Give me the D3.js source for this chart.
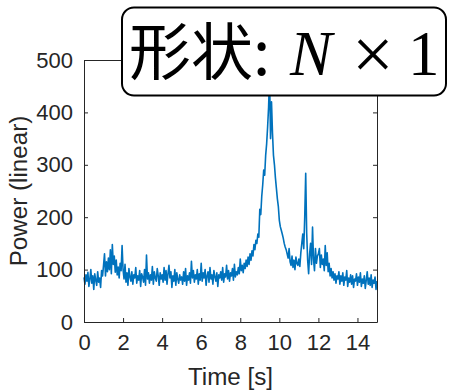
<!DOCTYPE html>
<html><head><meta charset="utf-8">
<script src="https://cdn.jsdelivr.net/npm/d3@7"></script>
<style>html,body{margin:0;padding:0;background:#fff;}svg{display:block;}</style>
</head><body>
<svg id="c" width="450" height="390"></svg>
<script>
// Time step 0.05 s (one row per second)
const tStep = 0.05;
const power = [
  85,72,90,78,95,68,82,100,74,88,62,92,80,70,96,76,84,66,98,88,
  108,130,88,115,96,122,100,138,92,148,110,126,95,118,90,105,84,112,98,146,
  100,82,110,76,94,70,102,86,78,96,72,90,84,104,74,88,80,98,68,92,
  86,76,100,70,128,82,94,74,90,80,106,72,96,84,78,102,88,70,94,82,
  90,76,104,80,98,72,92,108,84,96,66,88,78,100,70,94,82,74,90,80,
  86,72,96,78,102,70,88,80,94,74,116,84,98,76,90,82,100,72,92,80,
  112,78,94,84,100,70,88,96,76,104,82,90,72,98,86,78,94,68,90,84,
  96,80,104,76,92,86,108,82,98,78,94,88,102,80,110,86,96,90,104,92,
  120,98,108,94,112,102,118,106,124,110,130,118,136,126,148,138,156,150,168,162,
  215,205,240,262,290,280,318,340,372,410,470,350,420,360,318,300,275,255,235,220,
  194,182,175,168,160,150,143,138,130,122,140,115,108,126,104,118,100,124,112,108,
  120,106,132,150,168,140,200,284,170,118,92,130,150,110,181,120,98,140,112,126,
  130,140,104,128,110,120,98,146,108,132,96,112,88,102,84,96,80,92,74,88,
  82,96,72,88,78,94,70,86,80,98,68,84,76,90,72,88,66,82,78,92,
  70,86,76,94,68,82,74,88,64,80,96,72,84,70,90,66,80,74,86,62,
  78
];
const xTicks = [0,2,4,6,8,10,12,14];
const yTicks = [0,100,200,300,400,500];
const xLabel = "Time [s]";
const yLabel = "Power (linear)";
const titleCJK = "形状:";
const titleN = "N";
const titleTimes = "×";
const titleOne = "1";

const data = power.map((v,i)=>({t:i*tStep, v}));
const svg = d3.select("#c");
const L=84, R=377, T=60, B=322;
const x = d3.scaleLinear().domain([0,15]).range([L,R]);
const y = d3.scaleLinear().domain([0,500]).range([B,T]);
const axisCol = "#262626";
const tickFont = "Liberation Sans, Arial, sans-serif";

// data line
svg.append("path").datum(data)
  .attr("fill","none").attr("stroke","#0072BD").attr("stroke-width",1.6)
  .attr("stroke-linejoin","round")
  .attr("d", d3.line().x(d=>x(d.t)).y(d=>y(d.v)));

// axes (MATLAB style, ticks inward, box on)
function styleAxis(g){
  g.select(".domain").attr("stroke",axisCol).attr("stroke-width",1);
  g.selectAll(".tick line").attr("stroke",axisCol).attr("stroke-width",1);
  g.selectAll("text").attr("fill",axisCol).attr("font-family",tickFont).attr("font-size",22);
}
const gx = svg.append("g").attr("transform",`translate(0,${B})`)
  .call(d3.axisBottom(x).tickValues(xTicks).tickSizeInner(-4).tickSizeOuter(0).tickPadding(12).tickFormat(d3.format("d")));
styleAxis(gx);
const gxt = svg.append("g").attr("transform",`translate(0,${T})`)
  .call(d3.axisTop(x).tickValues(xTicks).tickSizeInner(-4).tickSizeOuter(0).tickFormat(""));
styleAxis(gxt);
const gy = svg.append("g").attr("transform",`translate(${L},0)`)
  .call(d3.axisLeft(y).tickValues(yTicks).tickSizeInner(-4).tickSizeOuter(0).tickPadding(11).tickFormat(d3.format("d")));
styleAxis(gy);
const gyr = svg.append("g").attr("transform",`translate(${R},0)`)
  .call(d3.axisRight(y).tickValues(yTicks).tickSizeInner(-4).tickSizeOuter(0).tickFormat(""));
styleAxis(gyr);

// axis labels
svg.append("text").attr("x",(L+R)/2).attr("y",385).attr("text-anchor","middle")
  .attr("font-family",tickFont).attr("font-size",24.2).attr("fill",axisCol).text(xLabel);
svg.append("text").attr("transform",`translate(27,${(T+B)/2}) rotate(-90)`).attr("text-anchor","middle")
  .attr("font-family",tickFont).attr("font-size",24.2).attr("fill",axisCol).text(yLabel);

// title box
svg.append("rect").attr("x",122).attr("y",7.5).attr("width",324).attr("height",88)
  .attr("rx",12).attr("ry",12).attr("fill","#fff").attr("stroke","#000").attr("stroke-width",2);
const tt = svg.append("text").attr("y",75).attr("fill","#000");
tt.append("tspan").attr("x",129).attr("font-family","Noto Sans CJK SC").attr("font-size",62).text(titleCJK);
tt.append("tspan").attr("x",290).attr("y",75).attr("font-family","Liberation Serif, serif").attr("font-style","italic").attr("font-size",63).text(titleN);
tt.append("tspan").attr("x",352).attr("y",79).attr("font-family","Liberation Serif, serif").attr("font-size",74).text(titleTimes);
tt.append("tspan").attr("x",408).attr("y",75).attr("font-family","Liberation Serif, serif").attr("font-size",63).text(titleOne);
</script>
</body></html>
